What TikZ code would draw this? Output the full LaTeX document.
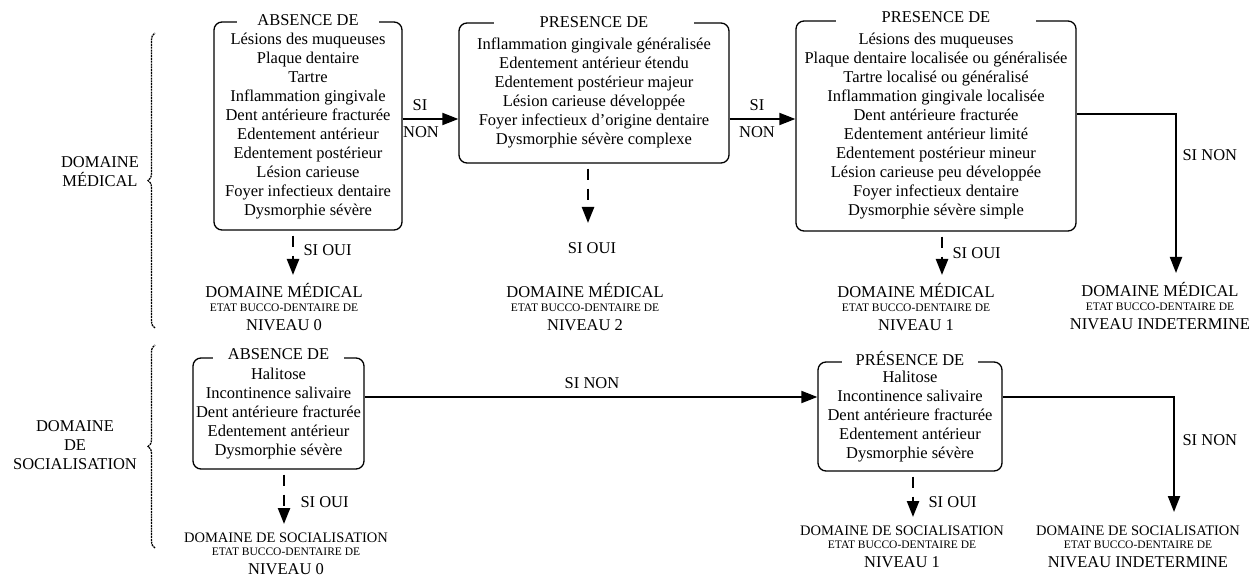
\documentclass[tikz,border=0pt]{standalone}
\usepackage{fontspec}
\setmainfont{Liberation Serif}
\usetikzlibrary{arrows.meta,decorations.pathreplacing}
\newcommand\petit{\fontsize{11.5}{13}\selectfont}
\newcommand\moyen{\fontsize{14.5}{18.9}\selectfont}

\begin{document}
\begin{tikzpicture}[x=1pt, y=-1pt,
        font=\fontsize{16.5}{18.9}\selectfont,
        box/.style={draw, line width=1.3pt, rounded corners=8pt, align=center, inner sep=0pt},
        titre/.style={fill=white, inner ysep=1pt, yshift=3pt},
        issue/.style={align=center, inner sep=0pt},
        non/.style={line width=2pt, -{Triangle[length=16pt,width=12pt]}},
        oui/.style={non, line width=2.4pt, dash pattern=on 11pt off 9pt, shorten <=5pt},
        accolade/.style={decorate, decoration={brace, amplitude=7pt}, line width=1.3pt, dash pattern=on 2pt off 0.8pt}]
    \useasboundingbox (0,0) rectangle (1258,577);

    % domaine medical
    \node[align=center] (dmed) at (100,172) {DOMAINE\\MÉDICAL};
    \coordinate (bm1) at (155,328);
    \coordinate (bm2) at (155,33);
    \draw[accolade] (bm1) -- (bm2);

    \node[box, minimum width=188pt, minimum height=208pt] (med0) at (308,126) {Lésions des muqueuses\\Plaque dentaire\\Tartre\\Inflammation gingivale\\Dent antérieure fracturée\\Edentement antérieur\\Edentement postérieur\\Lésion carieuse\\Foyer infectieux dentaire\\Dysmorphie sévère};
    \node[titre, inner xsep=20pt, yshift=-1.5pt] at (med0.north) {ABSENCE DE};

    \node[box, minimum width=270pt, minimum height=140pt] (med2) at (594,93) {Inflammation gingivale généralisée\\Edentement antérieur étendu\\Edentement postérieur majeur\\Lésion carieuse développée\\Foyer infectieux d’origine dentaire\\Dysmorphie sévère complexe};
    \node[titre, inner xsep=46pt, yshift=-3pt] at (med2.north) {PRESENCE DE};

    \node[box, minimum width=280pt, minimum height=210pt] (med1) at (936,126) {Lésions des muqueuses\\Plaque dentaire localisée ou généralisée\\Tartre localisé ou généralisé\\Inflammation gingivale localisée\\Dent antérieure fracturée\\Edentement antérieur limité\\Edentement postérieur mineur\\Lésion carieuse peu développée\\Foyer infectieux dentaire\\Dysmorphie sévère simple};
    \node[titre, inner xsep=46pt] at (med1.north) {PRESENCE DE};

    \node[issue] (niv0) at (284,307) {DOMAINE MÉDICAL\\[-5.6pt]{\petit ETAT BUCCO-DENTAIRE DE}\\NIVEAU 0};
    \node[issue] (niv2) at (585,307) {DOMAINE MÉDICAL\\[-5.6pt]{\petit ETAT BUCCO-DENTAIRE DE}\\NIVEAU 2};
    \node[issue] (niv1) at (916,307) {DOMAINE MÉDICAL\\[-5.6pt]{\petit ETAT BUCCO-DENTAIRE DE}\\NIVEAU 1};
    \node[issue] (nivx) at (1160,306) {DOMAINE MÉDICAL\\[-5.6pt]{\petit ETAT BUCCO-DENTAIRE DE}\\NIVEAU INDETERMINE};

    \draw[non] ([yshift=7pt]med0.east) -- ([yshift=7pt]med0.east -| med2.west);
    \node (si0) at (420,105) {SI};
    \node (no0) at (421,132) {NON};
    \draw[non] ([yshift=-26pt]med2.east) -- ([yshift=-26pt]med2.east -| med1.west);
    \node (si2) at (757,105) {SI};
    \node (no2) at (757,132) {NON};
    \coordinate (tx) at (1176,273);
    \draw[non] ([yshift=12pt]med1.east) -| (tx);
    \node[anchor=west] (nx) at (1179,155) {SI NON};

    \coordinate (t0) at (293,275);
    \draw[oui] (med0.south -| t0) -- (t0);
    \node[anchor=west] (o0) at (300,250) {SI OUI};
    \coordinate (t2) at (588,223);
    \draw[oui] (med2.south -| t2) -- (t2);
    \node (o2) at (592,248) {SI OUI};
    \coordinate (t1) at (942,275);
    \draw[oui] (med1.south -| t1) -- (t1);
    \node[anchor=west] (o1) at (949,253) {SI OUI};

    % domaine de socialisation
    \node[align=center] (dsoc) at (75,445) {DOMAINE\\DE\\SOCIALISATION};
    \coordinate (bs1) at (155,548);
    \coordinate (bs2) at (155,345);
    \draw[accolade] (bs1) -- (bs2);

    \node[box, minimum width=171pt, minimum height=111pt] (soc0) at (278.5,413.5) {Halitose\\Incontinence salivaire\\Dent antérieure fracturée\\Edentement antérieur\\Dysmorphie sévère};
    \node[titre, inner xsep=15pt] at (soc0.north) {ABSENCE DE};

    \node[box, minimum width=184pt, minimum height=109pt] (soc1) at (910,416.5) {Halitose\\Incontinence salivaire\\Dent antérieure fracturée\\Edentement antérieur\\Dysmorphie sévère};
    \node[titre, inner xsep=14pt] at (soc1.north) {PRÉSENCE DE};

    \node[issue] (sniv0) at (286,554) {{\moyen DOMAINE DE SOCIALISATION}\\[-5.6pt]{\petit ETAT BUCCO-DENTAIRE DE}\\NIVEAU 0};
    \node[issue] (sniv1) at (902,547) {{\moyen DOMAINE DE SOCIALISATION}\\[-5.6pt]{\petit ETAT BUCCO-DENTAIRE DE}\\NIVEAU 1};
    \node[issue] (snivx) at (1138,547) {{\moyen DOMAINE DE SOCIALISATION}\\[-5.6pt]{\petit ETAT BUCCO-DENTAIRE DE}\\NIVEAU INDETERMINE};

    \draw[non] ([yshift=16.5pt]soc0.east) -- ([yshift=16.5pt]soc0.east -| soc1.west);
    \node (ns0) at (592,383) {SI NON};
    \coordinate (sx) at (1174,512);
    \draw[non] ([yshift=19.5pt]soc1.east) -| (sx);
    \node[anchor=west] (nsx) at (1179,440) {SI NON};

    \coordinate (s0) at (284,524);
    \draw[oui] (soc0.south -| s0) -- (s0);
    \node[anchor=west] (os0) at (297,502) {SI OUI};
    \coordinate (s1) at (913,517);
    \draw[oui] (soc1.south -| s1) -- (s1);
    \node[anchor=west] (os1) at (925,502) {SI OUI};
\end{tikzpicture}
\end{document}
